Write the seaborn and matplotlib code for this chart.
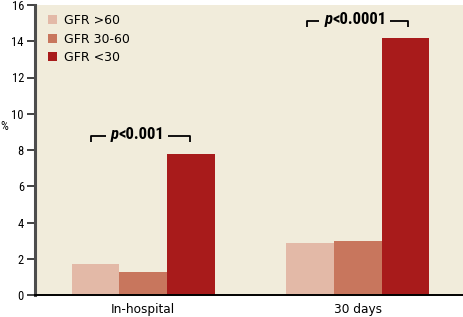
import matplotlib
matplotlib.use("Agg")
import matplotlib.pyplot as plt
import seaborn as sns
import pandas as pd
from matplotlib import font_manager as fm

periods = ["In-hospital", "30 days"]
groups = ["GFR >60", "GFR 30-60", "GFR <30"]
gfr_gt60 = [1.71, 2.87]
gfr_30_60 = [1.29, 2.98]
gfr_lt30 = [7.80, 14.18]
yticks = [0, 2, 4, 6, 8, 10, 12, 14, 16]
pvals = ["<0.001", "<0.0001"]
colors = ["#E3B9A7", "#C8765D", "#A81B1B"]
bg = "#F1ECDB"

# pick a narrow font if one exists
fl = fm.fontManager.ttflist
names = {f.name for f in fl}
narrow_kw = None
for cand in ["Liberation Sans Narrow", "Roboto Condensed", "Open Sans Condensed",
             "Noto Sans Condensed", "DejaVu Sans Condensed"]:
    if cand in names:
        narrow_kw = dict(fontfamily=cand)
        break
if narrow_kw is None:
    cond = [f for f in fl if f.name in ("DejaVu Sans", "Noto Sans", "Open Sans", "Roboto")
            and "condensed" in str(f.stretch)]
    if cond:
        narrow_kw = dict(fontfamily=cond[0].name, fontstretch="condensed")
    else:
        narrow_kw = dict(fontfamily="Roboto")

rows = []
for g, vals in zip(groups, [gfr_gt60, gfr_30_60, gfr_lt30]):
    for p, v in zip(periods, vals):
        rows.append({"period": p, "group": g, "value": v})
df = pd.DataFrame(rows)

sns.set_theme(style="white")
plt.rcParams["font.family"] = ["DejaVu Sans"]
plt.rcParams["text.color"] = "black"
plt.rcParams["xtick.color"] = "black"
plt.rcParams["ytick.color"] = "black"

fig = plt.figure(figsize=(4.64, 3.17), dpi=100)
ax = fig.add_axes([35 / 464, 22 / 317, 429 / 464, 290 / 317])
ax.set_facecolor(bg)

sns.barplot(data=df, x="period", y="value", hue="group", order=periods,
            hue_order=groups, palette=colors, width=0.668, linewidth=0,
            saturation=1, ax=ax, errorbar=None)

ax.set_xlim(-0.505, 1.496)
ax.set_ylim(0, 16)
ax.set_yticks(yticks)
ax.set_yticklabels([str(t) for t in yticks], fontsize=9, **narrow_kw)
ax.set_xlabel("")
ax.set_ylabel("")
ax.tick_params(axis="y", direction="out", length=6, width=1.3, color="#333333",
               pad=2, left=True, labelcolor="black")
ax.tick_params(axis="x", length=0, pad=6, labelsize=8.7, labelcolor="black")

for s in ["top", "right"]:
    ax.spines[s].set_visible(False)
ax.spines["left"].set_color("#4d4d4d")
ax.spines["left"].set_linewidth(2.2)
ax.spines["bottom"].set_color("black")
ax.spines["bottom"].set_linewidth(1.4)

ax.text(-0.071, 0.58, "%", transform=ax.transAxes, fontsize=9, ha="center",
        va="center", **narrow_kw)

ax.legend(loc="upper left", frameon=False, fontsize=9, handlelength=0.75,
          handleheight=0.75, handletextpad=0.55, labelspacing=0.45,
          borderaxespad=0.2, bbox_to_anchor=(0.012, 0.995))

# significance brackets
fs_p = 12
brackets = [(-0.245, 0.220, 8.79, 8.44, -0.025), (0.765, 1.235, 15.13, 14.80, 0.99)]
renderer = fig.canvas.get_renderer()
for (x0, x1, yl, yt, xc), pv in zip(brackets, pvals):
    ax.plot([x0, x0, x1, x1], [yt, yl, yl, yt], color="black", lw=1.3,
            solid_capstyle="butt", zorder=5)
    # measure widths
    tmp_full = ax.text(0, 0, "p" + pv, fontsize=fs_p, fontweight="bold", **narrow_kw)
    tmp_p = ax.text(0, 0, "p", fontsize=fs_p, fontweight="bold", fontstyle="italic",
                    **narrow_kw)
    w_full = tmp_full.get_window_extent(renderer).width
    w_p = tmp_p.get_window_extent(renderer).width
    tmp_full.remove()
    tmp_p.remove()
    xc_px = ax.transData.transform((xc, yl))
    inv = ax.transData.inverted()
    left = inv.transform((xc_px[0] - w_full / 2, xc_px[1]))[0]
    mid = inv.transform((xc_px[0] - w_full / 2 + w_p, xc_px[1]))[0]
    # background gap in the bracket line
    gl = inv.transform((xc_px[0] - w_full / 2 - 5, xc_px[1]))[0]
    gr = inv.transform((xc_px[0] + w_full / 2 + 3, xc_px[1]))[0]
    ax.plot([gl, gr], [yl, yl], color=bg, lw=3, zorder=5.5, solid_capstyle="butt")
    ax.text(left, yl + 0.05, "p", ha="left", va="center", fontsize=fs_p,
            fontweight="bold", fontstyle="italic", zorder=7, **narrow_kw)
    ax.text(mid, yl + 0.05, pv, ha="left", va="center", fontsize=fs_p,
            fontweight="bold", zorder=7, **narrow_kw)

fig.savefig("out.png", dpi=100, facecolor="white")
